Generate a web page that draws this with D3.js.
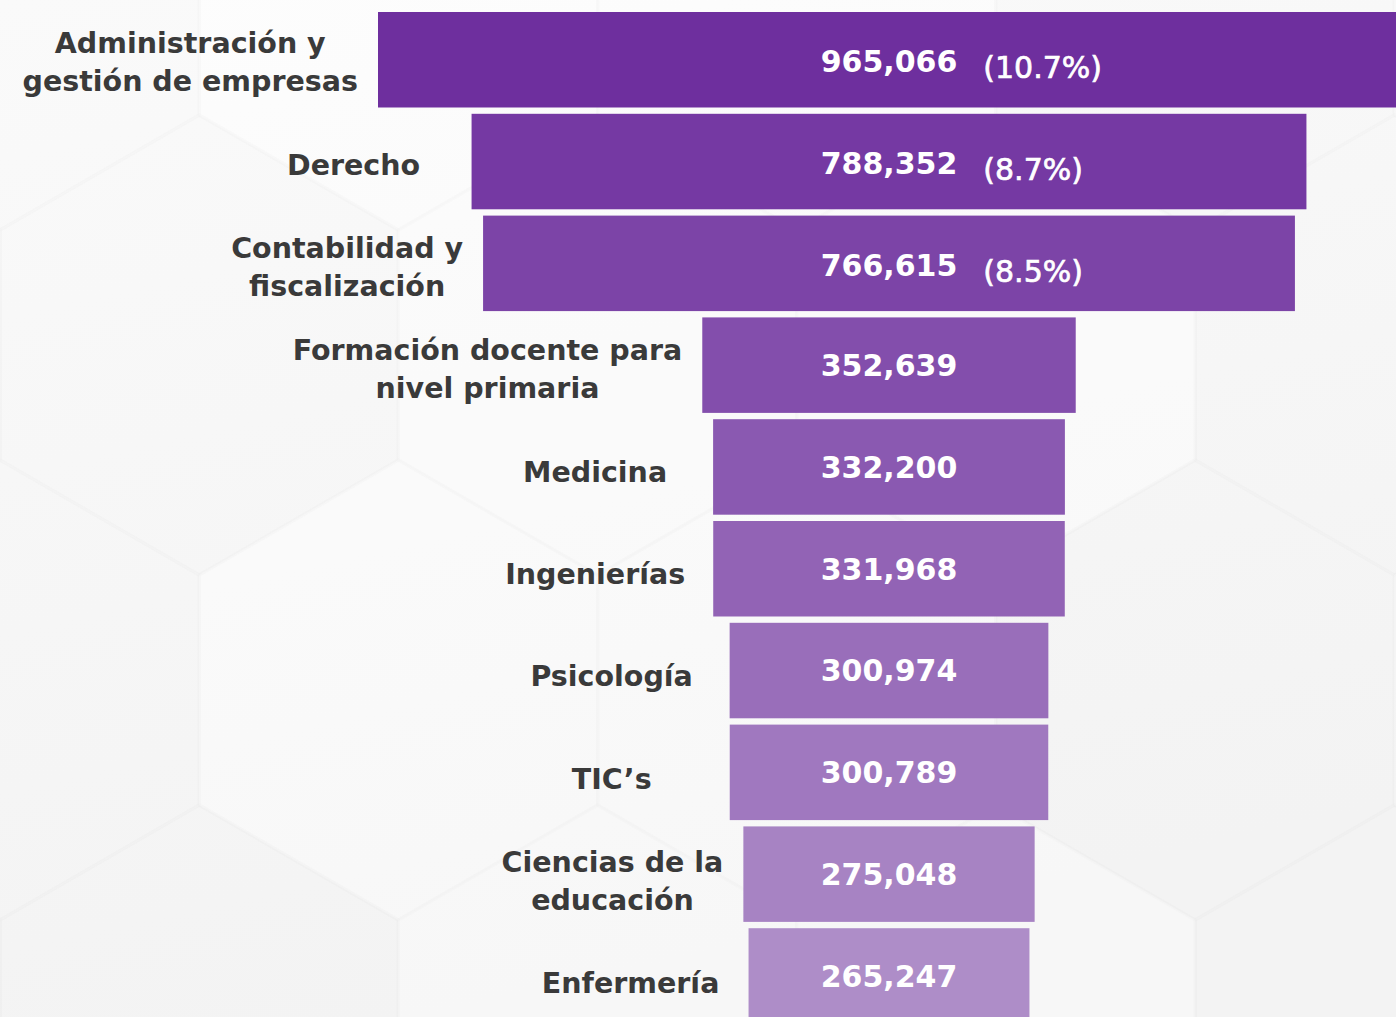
<!DOCTYPE html>
<html>
<head>
<meta charset="utf-8">
<script src="https://cdn.jsdelivr.net/npm/d3@7"></script>
<style>
  html, body { margin: 0; padding: 0; overflow: hidden; background: #f7f7f7; }
  svg { display: block; }
  .label { font-family: "DejaVu Sans", sans-serif; font-weight: bold; fill: #3a3a3a; }
  .value { font-family: "DejaVu Sans", sans-serif; font-weight: bold; fill: #fff; }
  .share { font-family: "DejaVu Sans", sans-serif; font-weight: normal; fill: #fff; stroke: #fff; stroke-width: 0.7; }
</style>
</head>
<body>
<svg id="chart"></svg>
<script>
// carreras con mayor matrícula
const categories = [
    'Administración y\ngestión de empresas',
    'Derecho',
    'Contabilidad y\nfiscalización',
    'Formación docente para\nnivel primaria',
    'Medicina',
    'Ingenierías',
    'Psicología',
    'TIC’s',
    'Ciencias de la\neducación',
    'Enfermería'
];
const values = [965066, 788352, 766615, 352639, 332200, 331968, 300974, 300789, 275048, 265247];
const shares = [10.7, 8.7, 8.5, null, null, null, null, null, null, null];

const width = 1396;
const height = 1017;
const centerX = 889;

const svg = d3.select('#chart')
    .attr('width', width)
    .attr('height', height);

// --------- Background ---------
const defs = svg.append('defs');
const bg = defs.append('linearGradient')
    .attr('id', 'bg')
    .attr('x1', 0).attr('y1', 0).attr('x2', 0.3).attr('y2', 1);
bg.append('stop').attr('offset', 0).attr('stop-color', '#fcfcfc');
bg.append('stop').attr('offset', 1).attr('stop-color', '#f5f5f5');

svg.append('rect')
    .attr('width', width)
    .attr('height', height)
    .attr('fill', 'url(#bg)');

// faint hexagon pattern
const hexR = 230;
const hexW = Math.sqrt(3) * hexR;
const hexPoints = [];
for (let row = -1; row < 5; row++) {
    for (let col = -1; col < 8; col++) {
        hexPoints.push({
            x: col * hexW + (row % 2 ? hexW / 2 : 0),
            y: row * hexR * 1.5,
            k: (row * 3 + col) % 3
        });
    }
}
const hexPath = d3.range(6).map(i => {
    const a = Math.PI / 3 * i - Math.PI / 2;
    return [Math.cos(a) * hexR, Math.sin(a) * hexR];
});
svg.append('g')
    .selectAll('path')
    .data(hexPoints)
    .join('path')
    .attr('transform', d => `translate(${d.x},${d.y})`)
    .attr('d', d3.line()(hexPath) + 'Z')
    .attr('fill', d => d.k === 0 ? '#000' : '#fff')
    .attr('fill-opacity', d => d.k === 0 ? 0.008 : 0.25)
    .attr('stroke', '#000')
    .attr('stroke-opacity', 0.006)
    .attr('stroke-width', 4);

// --------- Scales ---------
const xScale = d3.scaleLinear()
    .domain([0, d3.max(values)])
    .range([0, 1022]);

const yScale = d3.scaleBand()
    .domain(categories)
    .range([8.85, 1026.85])
    .paddingInner(0.062)
    .paddingOuter(0.031);

const labelY = d3.scalePoint()
    .domain(categories)
    .range([62, 983]);

const color = d3.scaleLinear()
    .domain([0, categories.length - 1])
    .range(['#6e2f9e', '#ae8dc8'])
    .interpolate(d3.interpolateRgb);

const rows = categories.map((c, i) => ({ category: c, value: values[i], share: shares[i], index: i }));

// --------- Bars ---------
svg.append('g')
    .selectAll('rect')
    .data(rows)
    .join('rect')
    .attr('x', d => centerX - xScale(d.value) / 2)
    .attr('y', d => yScale(d.category))
    .attr('width', d => xScale(d.value))
    .attr('height', yScale.bandwidth())
    .attr('fill', d => color(d.index));

// --------- Values ---------
const valueG = svg.append('g');
rows.forEach(d => {
    const cy = yScale(d.category) + yScale.bandwidth() / 2;
    const num = valueG.append('text')
        .attr('class', 'value')
        .attr('x', centerX)
        .attr('y', cy + (d.share ? 1.5 : 0))
        .attr('dy', '0.36em')
        .attr('text-anchor', 'middle')
        .attr('font-size', 30)
        .text(d3.format(',')(d.value));
    if (d.share) {
        const w = num.node().getComputedTextLength();
        valueG.append('text')
            .attr('class', 'share')
            .attr('x', centerX + w / 2 + 26)
            .attr('y', cy + 7.5)
            .attr('dy', '0.36em')
            .attr('font-size', 30)
            .text(`(${d.share}%)`);
    }
});

// --------- Labels ---------
// centred block, sitting left of each bar
const lineHeight = 38;
const labelG = svg.append('g');
rows.forEach(d => {
    const lines = d.category.split('\n');
    const barLeft = centerX - xScale(d.value) / 2;
    const t = labelG.append('text')
        .attr('class', 'label')
        .attr('font-size', 28.5)
        .attr('text-anchor', 'middle');
    const cy = labelY(d.category);
    const y0 = cy - (lines.length - 1) * lineHeight / 2;
    const spans = lines.map((l, i) => t.append('tspan')
        .attr('y', y0 + i * lineHeight)
        .attr('dy', '0.36em')
        .text(l));
    const maxW = d3.max(spans, s => s.node().getComputedTextLength());
    const cx = barLeft - Math.max(118, maxW / 2 + 20);
    spans.forEach(s => s.attr('x', cx));
});
</script>
</body>
</html>
